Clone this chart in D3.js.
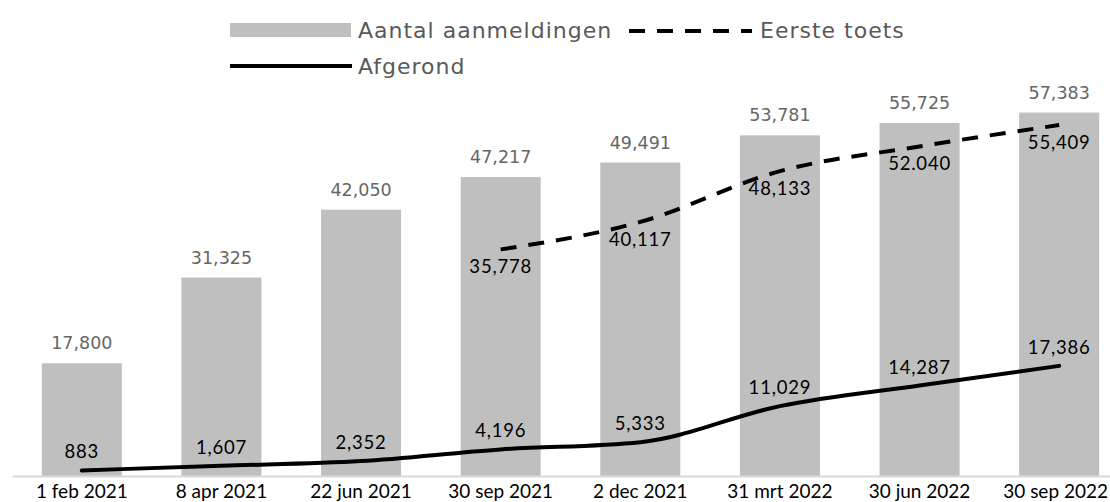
<!DOCTYPE html>
<html><head><meta charset="utf-8">
<script src="https://cdn.jsdelivr.net/npm/d3@7/dist/d3.min.js"></script>
<style>body{margin:0;background:#fff;overflow:hidden}</style>
</head><body>
<svg id="c" width="1110" height="502"></svg>
<script>
const categories = ["1 feb 2021","8 apr 2021","22 jun 2021","30 sep 2021","2 dec 2021","31 mrt 2022","30 jun 2022","30 sep 2022"];
const aanmeldingen = [17800,31325,42050,47217,49491,53781,55725,57383];
const eersteToetsCats = ["30 sep 2021","2 dec 2021","31 mrt 2022","30 jun 2022","30 sep 2022"];
const eersteToets = [35778,40117,48133,52040,55409];
const eersteToetsLabels = ["35,778","40,117","48,133","52.040","55,409"];
const afgerond = [883,1607,2352,4196,5333,11029,14287,17386];

const svg = d3.select("#c");
const x = d3.scaleBand().domain(categories).range([12, 1129]).paddingInner(0.427).paddingOuter(0.2135);
const y = d3.scaleLinear().domain([0, 60000]).range([476, 96]);
const fmt = d3.format(",");
const cx = d => x(d) + x.bandwidth()/2;

// bars
svg.selectAll("rect.bar").data(aanmeldingen).join("rect")
  .attr("x", (d,i) => x(categories[i])).attr("width", x.bandwidth())
  .attr("y", d => y(d)).attr("height", d => y(0) - y(d)).attr("fill", "#bfbfbf");

// axis
const ax = svg.append("g").attr("transform", "translate(0,476)").call(d3.axisBottom(x).tickSize(0).tickPadding(10));
ax.select(".domain").attr("stroke", "#d9d9d9").attr("stroke-width", 2);
ax.selectAll("text").attr("font-family", "Lato").attr("font-size", 19).attr("fill", "#000")
  .attr("y", 21.5).attr("dy", 0);
// keep the last label inside the window
ax.selectAll("text").each(function() {
  const b = this.getBBox();
  const tx = x(this.textContent) + x.bandwidth()/2;
  const over = tx + b.x + b.width - 1108;
  if (over > 0) d3.select(this).attr("dx", -over);
});

// bar labels
svg.selectAll("text.bl").data(aanmeldingen).join("text")
  .attr("x", (d,i) => cx(categories[i])).attr("y", d => y(d) - 14)
  .attr("text-anchor", "middle").attr("font-family", "DejaVu Sans").attr("font-size", 17.5)
  .attr("fill", "#666666").text(d => fmt(d));

// eerste toets dashed line
const line = d3.line().x(d => cx(d[0])).y(d => y(d[1]));
svg.append("path").datum(eersteToetsCats.map((c,i) => [c, eersteToets[i]]))
  .attr("d", line.curve(d3.curveMonotoneX)).attr("fill", "none").attr("stroke", "#000")
  .attr("stroke-width", 4).attr("stroke-dasharray", "16,12");
svg.selectAll("text.el").data(eersteToets).join("text")
  .attr("x", (d,i) => cx(eersteToetsCats[i])).attr("y", d => y(d) + 24)
  .attr("text-anchor", "middle").attr("font-family", "Lato").attr("font-size", 18.5)
  .attr("letter-spacing", 0.8).attr("fill", "#000").text((d,i) => eersteToetsLabels[i]);

// afgerond line
svg.append("path").datum(categories.map((c,i) => [c, afgerond[i]]))
  .attr("d", d3.line().x(d => cx(d[0])).y(d => y(d[1])).curve(d3.curveMonotoneX))
  .attr("fill", "none").attr("stroke", "#000").attr("stroke-width", 4).attr("stroke-linecap", "round");
svg.selectAll("text.al").data(afgerond).join("text")
  .attr("x", (d,i) => cx(categories[i])).attr("y", d => y(d) - 12)
  .attr("text-anchor", "middle").attr("font-family", "Lato").attr("font-size", 18.5)
  .attr("letter-spacing", 0.8).attr("fill", "#000").text(d => fmt(d));

// legend
const lg = svg.append("g").attr("font-family", "DejaVu Sans").attr("font-size", 22).attr("fill", "#595959").attr("letter-spacing", 1);
lg.append("rect").attr("x", 230).attr("y", 23).attr("width", 121).attr("height", 14).attr("fill", "#bfbfbf");
lg.append("text").attr("x", 358).attr("y", 38).text("Aantal aanmeldingen");
lg.append("line").attr("x1", 629).attr("x2", 752).attr("y1", 31).attr("y2", 31)
  .attr("stroke", "#000").attr("stroke-width", 4).attr("stroke-dasharray", "16,12");
lg.append("text").attr("x", 760).attr("y", 38).text("Eerste toets");
lg.append("line").attr("x1", 230).attr("x2", 352).attr("y1", 66).attr("y2", 66)
  .attr("stroke", "#000").attr("stroke-width", 4);
lg.append("text").attr("x", 358).attr("y", 74).text("Afgerond");
</script>
</body></html>
